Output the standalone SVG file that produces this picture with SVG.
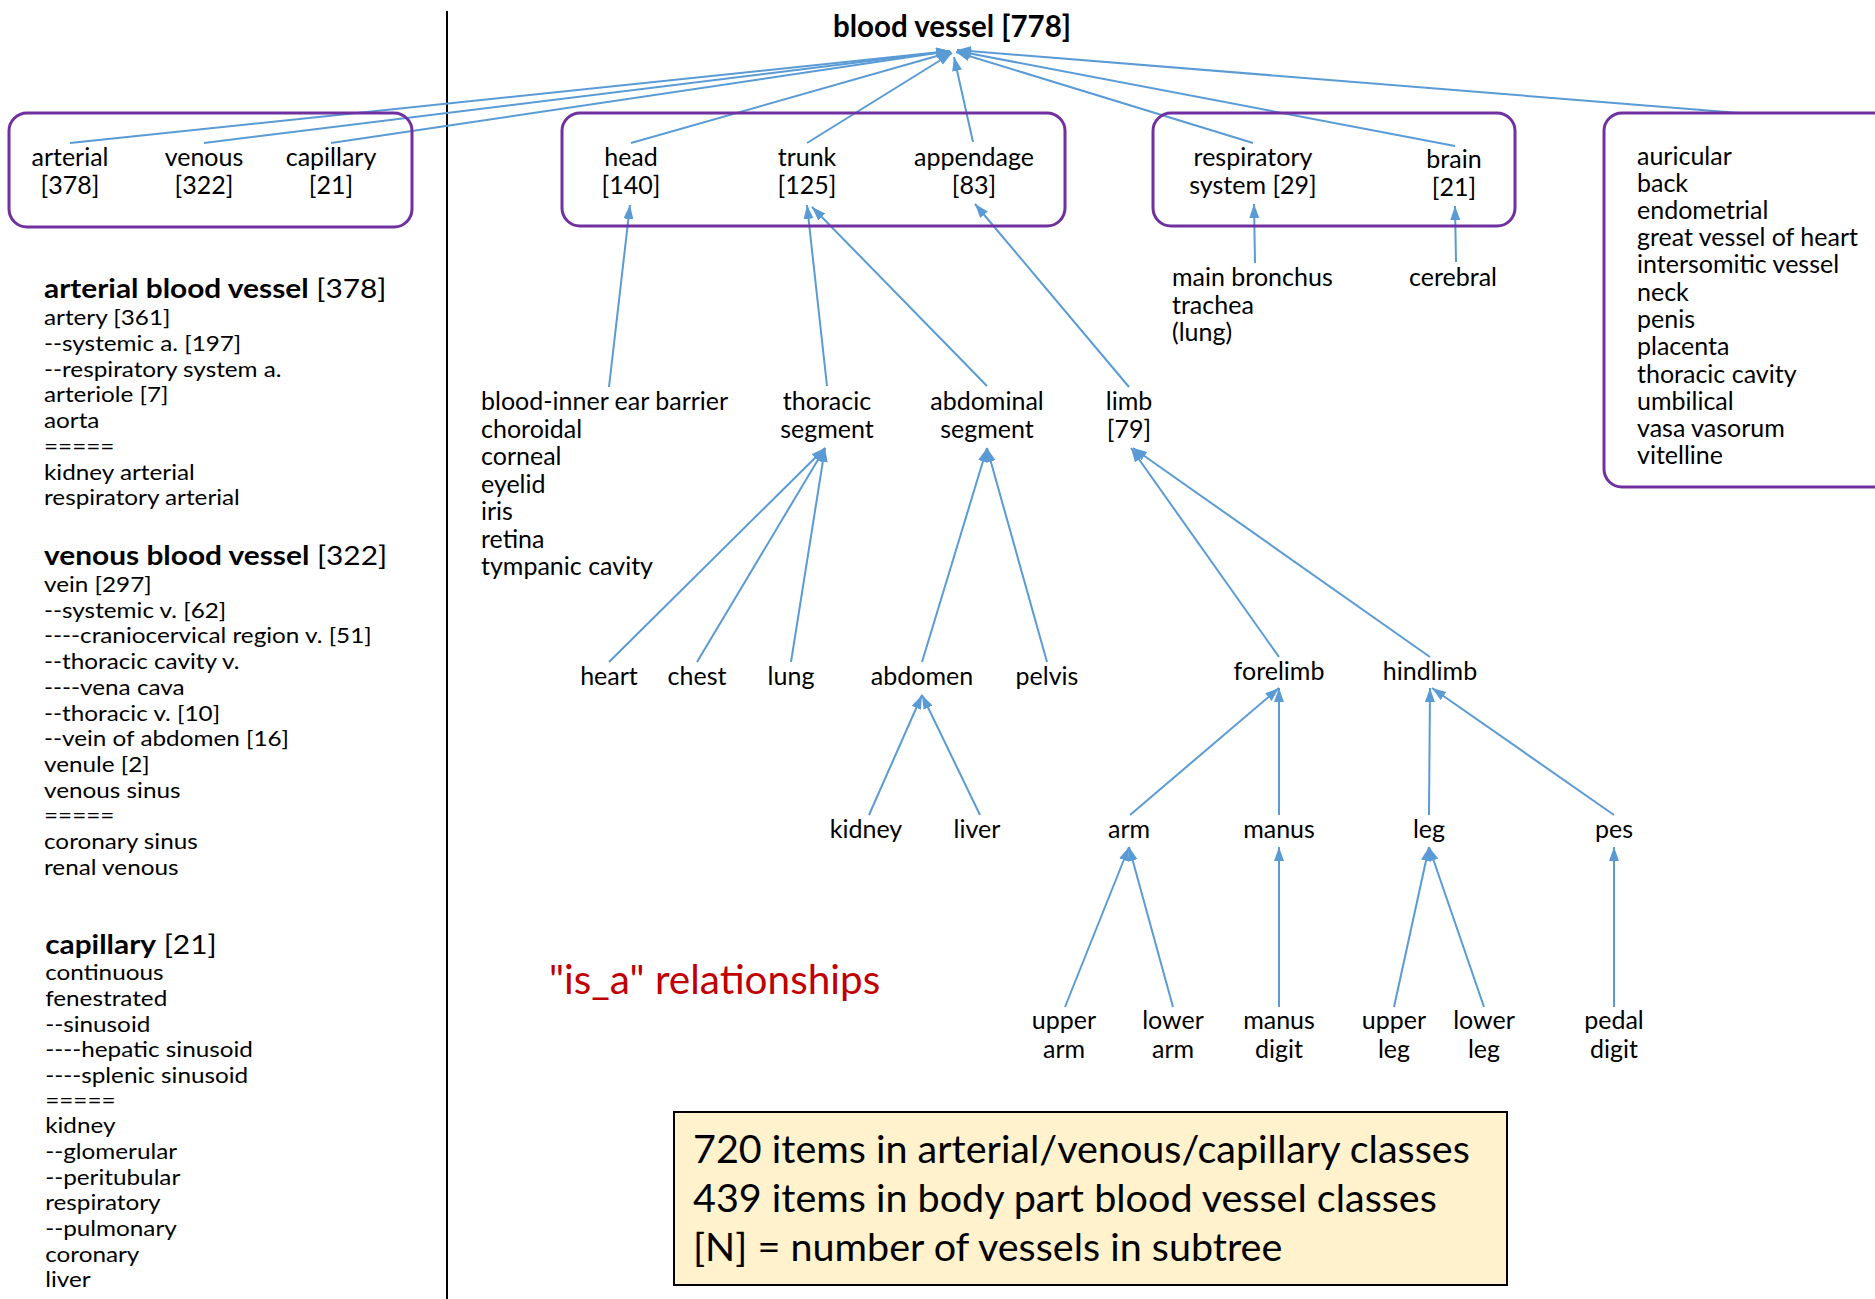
<svg xmlns="http://www.w3.org/2000/svg" width="1875" height="1299" viewBox="0 0 1875 1299">
<defs>
<marker id="ah" markerUnits="userSpaceOnUse" markerWidth="16" markerHeight="12" refX="14" refY="5" orient="auto">
<path d="M0,0 L14,5 L0,10 z" fill="#5B9BD5"/>
</marker>
<style>
text{font-family:Lato,"Open Sans","Liberation Sans",sans-serif;fill:#000}
.n{font-size:25px;text-anchor:middle}
.l{font-size:25px}
.p{font-size:21px}
.h{font-size:26px;font-weight:bold}
.hn{font-weight:normal}
.box{fill:none;stroke:#7030A0;stroke-width:3}
#connectors line{stroke:#5B9BD5;stroke-width:2;marker-end:url(#ah)}
</style>
</defs>
<rect width="1875" height="1299" fill="#fff"/>
<line x1="447" y1="11" x2="447" y2="1299" stroke="#000" stroke-width="2"/>

<g id="left-panel">
<g transform="translate(44,0) scale(1.148,1)">
<text class="h" x="0" y="298">arterial blood vessel<tspan class="hn"> [378]</tspan></text>
<text class="h" x="0" y="565">venous blood vessel<tspan class="hn"> [322]</tspan></text>
<text class="h" x="1" y="954">capillary<tspan class="hn"> [21]</tspan></text>
</g>
<g transform="translate(44,0) scale(1.157,1)">
<text class="p" x="0" y="325">artery [361]</text>
<text class="p" x="0" y="351">--systemic a. [197]</text>
<text class="p" x="0" y="377">--respiratory system a.</text>
<text class="p" x="0" y="402">arteriole [7]</text>
<text class="p" x="0" y="428">aorta</text>
<text class="p" x="0" y="454">=====</text>
<text class="p" x="0" y="480">kidney arterial</text>
<text class="p" x="0" y="505">respiratory arterial</text>

<text class="p" x="0" y="592">vein [297]</text>
<text class="p" x="0" y="618">--systemic v. [62]</text>
<text class="p" x="0" y="643">----craniocervical region v. [51]</text>
<text class="p" x="0" y="669">--thoracic cavity v.</text>
<text class="p" x="0" y="695">----vena cava</text>
<text class="p" x="0" y="721">--thoracic v. [10]</text>
<text class="p" x="0" y="746">--vein of abdomen [16]</text>
<text class="p" x="0" y="772">venule [2]</text>
<text class="p" x="0" y="798">venous sinus</text>
<text class="p" x="0" y="823">=====</text>
<text class="p" x="0" y="849">coronary sinus</text>
<text class="p" x="0" y="875">renal venous</text>

<text class="p" x="1" y="980">continuous</text>
<text class="p" x="1" y="1006">fenestrated</text>
<text class="p" x="1" y="1032">--sinusoid</text>
<text class="p" x="1" y="1057">----hepatic sinusoid</text>
<text class="p" x="1" y="1083">----splenic sinusoid</text>
<text class="p" x="1" y="1108">=====</text>
<text class="p" x="1" y="1133">kidney</text>
<text class="p" x="1" y="1159">--glomerular</text>
<text class="p" x="1" y="1185">--peritubular</text>
<text class="p" x="1" y="1210">respiratory</text>
<text class="p" x="1" y="1236">--pulmonary</text>
<text class="p" x="1" y="1262">coronary</text>
<text class="p" x="1" y="1287">liver</text>
</g>
</g>

<g id="connectors">
<line x1="70" y1="143" x2="950" y2="51"/>
<line x1="204" y1="143" x2="950" y2="51"/>
<line x1="331" y1="143" x2="950" y2="51"/>
<line x1="631" y1="143" x2="951" y2="52"/>
<line x1="807" y1="143" x2="952" y2="53"/>
<line x1="973" y1="142" x2="954" y2="57"/>
<line x1="1253" y1="143" x2="956" y2="52"/>
<line x1="1455" y1="146" x2="957" y2="51"/>
<line x1="1739" y1="113" x2="957" y2="50"/>
<line x1="609" y1="387" x2="630" y2="205"/>
<line x1="827" y1="386" x2="807" y2="205"/>
<line x1="987" y1="386" x2="812" y2="207"/>
<line x1="1129" y1="387" x2="975" y2="204"/>
<line x1="1255" y1="263" x2="1254" y2="204"/>
<line x1="1456" y1="262" x2="1455" y2="206"/>
<line x1="609" y1="662" x2="825" y2="448"/>
<line x1="697" y1="662" x2="825" y2="448"/>
<line x1="791" y1="662" x2="825" y2="448"/>
<line x1="922" y1="662" x2="987" y2="448"/>
<line x1="1047" y1="662" x2="987" y2="448"/>
<line x1="1279" y1="657" x2="1131" y2="448"/>
<line x1="1430" y1="657" x2="1133" y2="448"/>
<line x1="869" y1="815" x2="922" y2="695"/>
<line x1="980" y1="815" x2="922" y2="695"/>
<line x1="1130" y1="815" x2="1279" y2="688"/>
<line x1="1279" y1="815" x2="1279" y2="688"/>
<line x1="1429" y1="815" x2="1430" y2="688"/>
<line x1="1614" y1="815" x2="1432" y2="688"/>
<line x1="1065" y1="1007" x2="1129" y2="847"/>
<line x1="1173" y1="1007" x2="1129" y2="847"/>
<line x1="1279" y1="1007" x2="1279" y2="847"/>
<line x1="1394" y1="1007" x2="1429" y2="847"/>
<line x1="1484" y1="1007" x2="1429" y2="847"/>
<line x1="1614" y1="1007" x2="1614" y2="847"/>
</g>

<g id="blood-vessel"><text x="952" y="37" style="font-size:29.5px;font-weight:bold;text-anchor:middle">blood vessel [778]</text></g>

<g id="group-avc">
<rect class="box" x="9" y="113" width="403" height="114" rx="18"/>
<g id="arterial"><text class="n" x="70" y="166">arterial</text><text class="n" x="70" y="194">[378]</text></g>
<g id="venous"><text class="n" x="204" y="166">venous</text><text class="n" x="204" y="194">[322]</text></g>
<g id="capillary"><text class="n" x="331" y="166">capillary</text><text class="n" x="331" y="194">[21]</text></g>
</g>

<g id="group-body">
<rect class="box" x="562" y="113" width="503" height="113" rx="18"/>
<g id="head"><text class="n" x="631" y="166">head</text><text class="n" x="631" y="194">[140]</text></g>
<g id="trunk"><text class="n" x="807" y="166">trunk</text><text class="n" x="807" y="194">[125]</text></g>
<g id="appendage"><text class="n" x="974" y="166">appendage</text><text class="n" x="974" y="194">[83]</text></g>
</g>

<g id="group-organ">
<rect class="box" x="1153" y="113" width="362" height="113" rx="18"/>
<g id="respiratory"><text class="n" x="1253" y="166">respiratory</text><text class="n" x="1253" y="194">system [29]</text></g>
<g id="brain"><text class="n" x="1454" y="168">brain</text><text class="n" x="1454" y="196">[21]</text></g>
</g>

<g id="other-list">
<rect class="box" x="1604" y="113" width="330" height="374" rx="18"/>
<text class="l" x="1637" y="165">auricular</text>
<text class="l" x="1637" y="192">back</text>
<text class="l" x="1637" y="219">endometrial</text>
<text class="l" x="1637" y="246">great vessel of heart</text>
<text class="l" x="1637" y="273">intersomitic vessel</text>
<text class="l" x="1637" y="301">neck</text>
<text class="l" x="1637" y="328">penis</text>
<text class="l" x="1637" y="355">placenta</text>
<text class="l" x="1637" y="383">thoracic cavity</text>
<text class="l" x="1637" y="410">umbilical</text>
<text class="l" x="1637" y="437">vasa vasorum</text>
<text class="l" x="1637" y="464">vitelline</text>
</g>

<g id="resp-children"><text class="l" x="1172" y="286">main bronchus</text><text class="l" x="1172" y="314">trachea</text><text class="l" x="1172" y="341">(lung)</text></g>
<g id="cerebral"><text class="n" x="1453" y="286">cerebral</text></g>

<g id="head-children">
<text class="l" x="481" y="410">blood-inner ear barrier</text>
<text class="l" x="481" y="438">choroidal</text>
<text class="l" x="481" y="465">corneal</text>
<text class="l" x="481" y="493">eyelid</text>
<text class="l" x="481" y="520">iris</text>
<text class="l" x="481" y="548">retina</text>
<text class="l" x="481" y="575">tympanic cavity</text>
</g>

<g id="thoracic"><text class="n" x="827" y="410">thoracic</text><text class="n" x="827" y="438">segment</text></g>
<g id="abdominal"><text class="n" x="987" y="410">abdominal</text><text class="n" x="987" y="438">segment</text></g>
<g id="limb"><text class="n" x="1129" y="410">limb</text><text class="n" x="1129" y="438">[79]</text></g>

<g id="heart"><text class="n" x="609" y="685">heart</text></g>
<g id="chest"><text class="n" x="697" y="685">chest</text></g>
<g id="lung"><text class="n" x="791" y="685">lung</text></g>
<g id="abdomen"><text class="n" x="922" y="685">abdomen</text></g>
<g id="pelvis"><text class="n" x="1047" y="685">pelvis</text></g>
<g id="forelimb"><text class="n" x="1279" y="680">forelimb</text></g>
<g id="hindlimb"><text class="n" x="1430" y="680">hindlimb</text></g>

<g id="kidney"><text class="n" x="866" y="838">kidney</text></g>
<g id="liver"><text class="n" x="977" y="838">liver</text></g>
<g id="arm"><text class="n" x="1129" y="838">arm</text></g>
<g id="manus"><text class="n" x="1279" y="838">manus</text></g>
<g id="leg"><text class="n" x="1429" y="838">leg</text></g>
<g id="pes"><text class="n" x="1614" y="838">pes</text></g>

<g id="upper-arm"><text class="n" x="1064" y="1029">upper</text><text class="n" x="1064" y="1058">arm</text></g>
<g id="lower-arm"><text class="n" x="1173" y="1029">lower</text><text class="n" x="1173" y="1058">arm</text></g>
<g id="manus-digit"><text class="n" x="1279" y="1029">manus</text><text class="n" x="1279" y="1058">digit</text></g>
<g id="upper-leg"><text class="n" x="1394" y="1029">upper</text><text class="n" x="1394" y="1058">leg</text></g>
<g id="lower-leg"><text class="n" x="1484" y="1029">lower</text><text class="n" x="1484" y="1058">leg</text></g>
<g id="pedal-digit"><text class="n" x="1614" y="1029">pedal</text><text class="n" x="1614" y="1058">digit</text></g>

<g id="isa-label"><text x="549" y="994" style="font-size:40.5px;fill:#C00000">"is_a" relationships</text></g>

<g id="summary">
<rect x="674" y="1112" width="833" height="173" fill="#FFF2CC" stroke="#000" stroke-width="2"/>
<text x="693" y="1163" style="font-size:39.5px">720 items in arterial/venous/capillary classes</text>
<text x="693" y="1212" style="font-size:39.5px">439 items in body part blood vessel classes</text>
<text x="693" y="1261" style="font-size:39.5px">[N] = number of vessels in subtree</text>
</g>
</svg>
